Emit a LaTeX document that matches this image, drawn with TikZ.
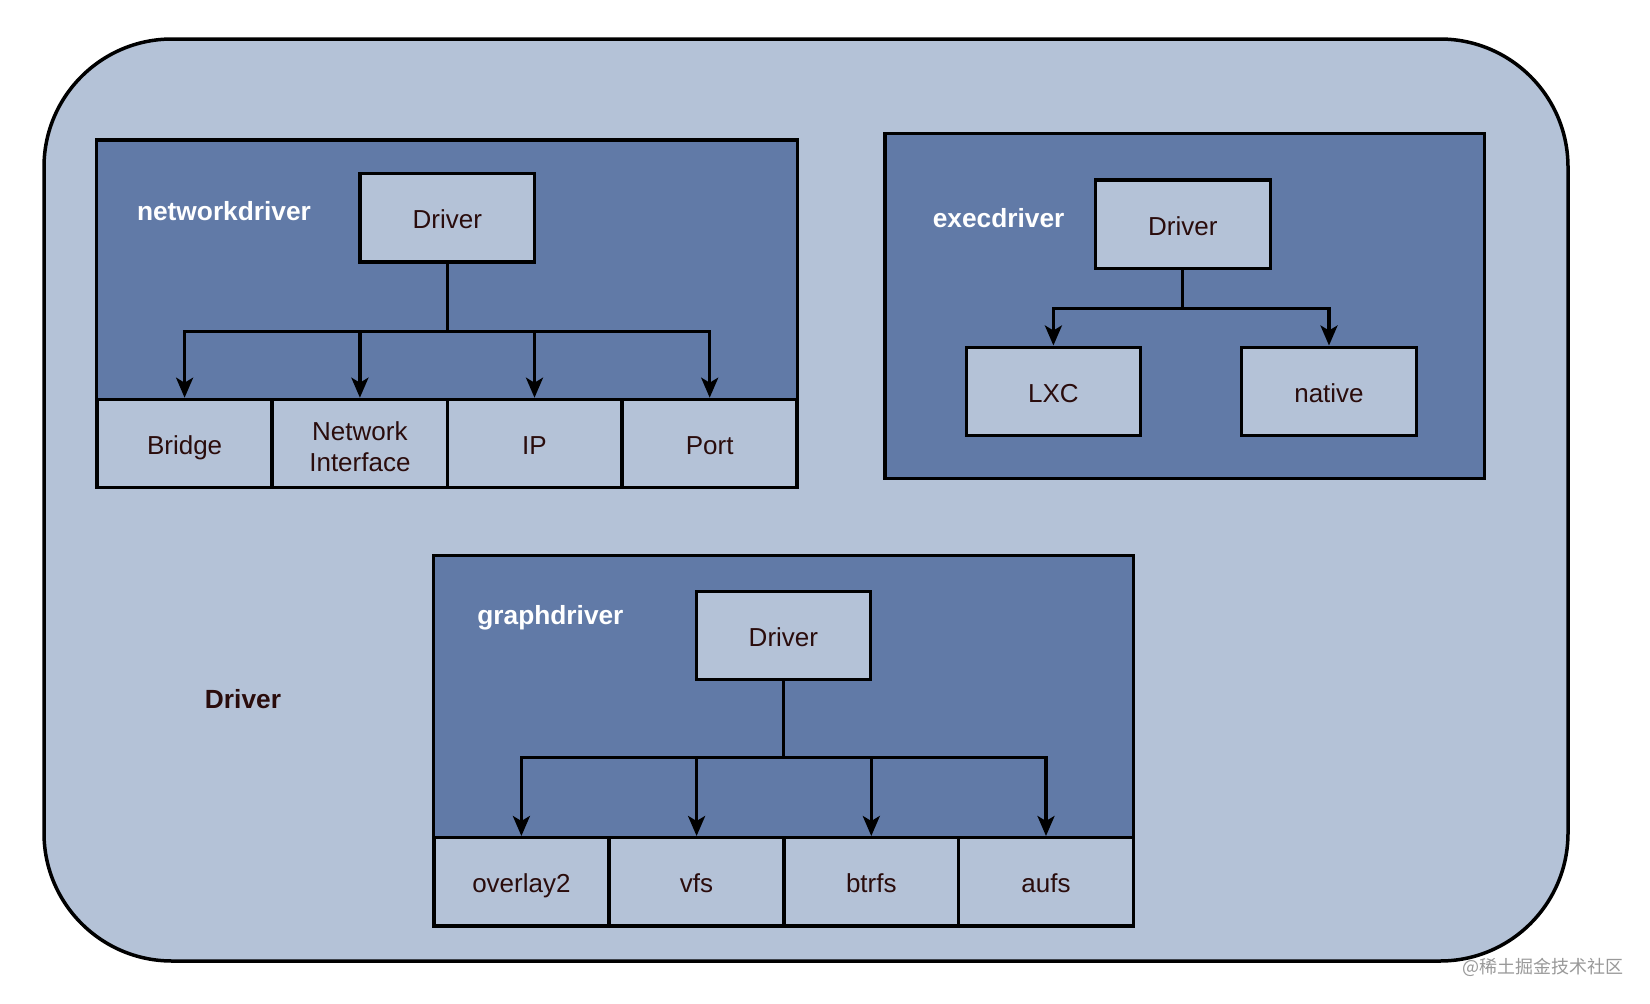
\documentclass[tikz,border=0pt]{standalone}
\usepackage{fontspec}
\setmainfont{Liberation Sans}
\newfontfamily\cjkfont{Noto Sans CJK SC}
\usetikzlibrary{arrows.meta}
\definecolor{lightbg}{HTML}{B4C2D7}
\definecolor{groupbg}{HTML}{617AA7}
\definecolor{txt}{HTML}{2A0C0C}
\tikzset{
  group/.style={draw=black, fill=groupbg, line width=3.2pt, rectangle, inner sep=0pt},
  cell/.style={draw=black, fill=lightbg, line width=3.2pt, rectangle, inner sep=0pt,
    minimum width=174.6pt, minimum height=88.4pt, text=txt, align=center,
    font=\fontsize{26}{31.5}\selectfont},
  oneline/.style={text height=22pt, text depth=0pt},
  celltext/.style={text=txt, align=center, inner sep=0pt, font=\fontsize{26}{31.5}\selectfont},
  glabel/.style={text=white, font=\fontsize{26.3}{30}\selectfont\bfseries, inner sep=0pt},
  conn/.style={line width=3.2pt, draw=black, -{Stealth[length=20pt,width=17pt,inset=5pt]}}
}
\begin{document}
\begin{tikzpicture}[x=1pt,y=-1pt]
\useasboundingbox (0,0) rectangle (1650,1004);
\fill[white] (0,0) rectangle (1650,1004);
\node[draw=black, fill=lightbg, line width=3.5pt, rounded corners=128pt, rectangle,
  minimum width=1524pt, minimum height=922pt, inner sep=0pt] (outer) at (806,500) {};

% ---------- networkdriver ----------
\node[group, minimum width=700.8pt, minimum height=347pt] (ng) at (447.2,313.5) {};
\node[glabel] (nl) at (224,211.5) {networkdriver};
\node[cell, oneline] (nd) at (447.3,217.8) {Driver};
\node[cell, oneline] (nb) at (184.6,443.5) {Bridge};
\node[cell] (nn) at (359.9,443.5) {};
\node[celltext] (nnt) at ([yshift=-3pt]nn.center) {Network\\Interface};
\node[cell, oneline] (ni) at (534.5,443.5) {IP};
\node[cell, oneline] (np) at (709.7,443.5) {Port};
\coordinate (nj) at (0,331.5);
\foreach \t in {nb,nn,ni,np}
  \draw[conn] (nd.south) -- (nd.south |- nj) -| (\t.north);

% ---------- execdriver ----------
\node[group, minimum width=599.8pt, minimum height=345.2pt] (eg) at (1184.9,306.2) {};
\node[glabel] (el) at (998.6,217.8) {execdriver};
\node[cell, oneline] (ed) at (1182.8,224.2) {Driver};
\node[cell, oneline] (elxc) at (1053.4,391.3) {LXC};
\node[cell, oneline] (en) at (1329,391.3) {native};
\coordinate (ej) at (0,308.3);
\foreach \t in {elxc,en}
  \draw[conn] (ed.south) -- (ed.south |- ej) -| (\t.north);

% ---------- graphdriver ----------
\node[group, minimum width=699.8pt, minimum height=370.4pt] (gg) at (783.4,740.8) {};
\node[glabel] (gl) at (550.4,617.7) {graphdriver};
\node[cell, oneline] (gd) at (783.4,635.6) {Driver};
\node[cell, oneline] (go) at (521.4,881.8) {overlay2};
\node[cell, oneline] (gv) at (696.6,881.8) {vfs};
\node[cell, oneline] (gb) at (871.3,881.8) {btrfs};
\node[cell, oneline] (ga) at (1046,881.8) {aufs};
\coordinate (gj) at (0,757.7);
\foreach \t in {go,gv,gb,ga}
  \draw[conn] (gd.south) -- (gd.south |- gj) -| (\t.north);

% ---------- labels ----------
\node[text=txt, font=\fontsize{26.3}{30}\selectfont\bfseries, inner sep=0pt] (dl) at (243,698.7) {Driver};
\node[text=black!40, font=\fontsize{18}{20}\selectfont\cjkfont, inner sep=0pt] (wm) at (1543,967) {@稀土掘金技术社区};
\end{tikzpicture}
\end{document}
